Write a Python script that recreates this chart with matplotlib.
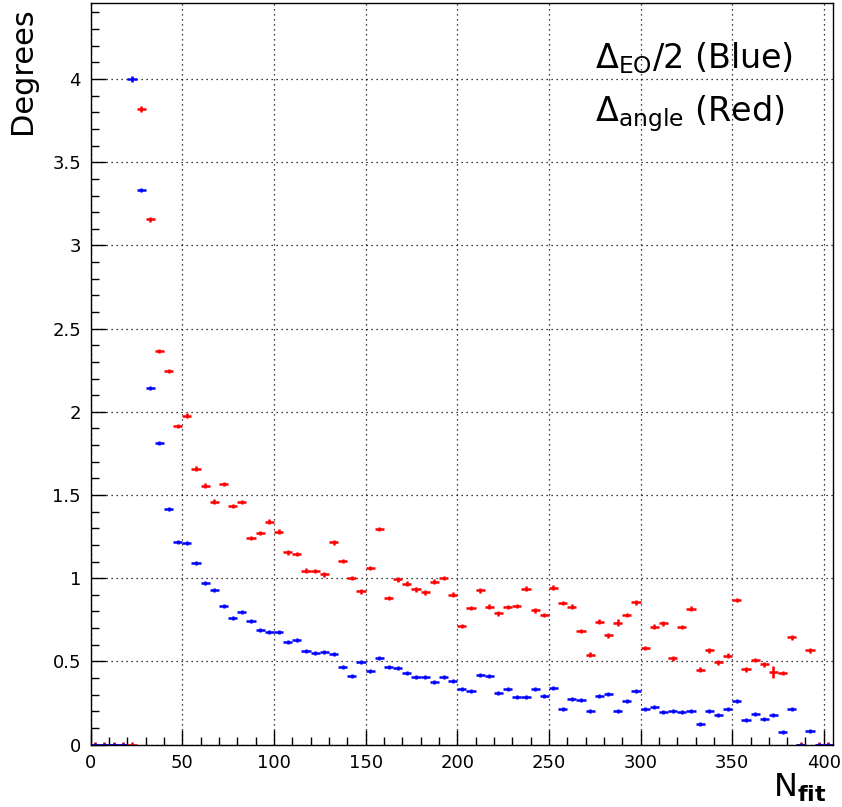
import numpy as np
import matplotlib
matplotlib.use("Agg")
import matplotlib.pyplot as plt
from matplotlib.ticker import MultipleLocator, FuncFormatter

plt.rcParams["mathtext.fontset"] = "dejavusans"

# bins of width 5 in N_fit, from 0 to 405
bin_width = 5.0
n_fit = np.arange(2.5, 405, bin_width)

# Delta_EO / 2 (blue)
delta_eo = [
    0, 0, 0, 0, 4.00, 3.335, 2.145, 1.814, 1.414, 1.22,
    1.212, 1.091, 0.973, 0.927, 0.835, 0.763, 0.797, 0.743, 0.689, 0.679,
    0.675, 0.615, 0.627, 0.563, 0.549, 0.557, 0.543, 0.465, 0.41, 0.495,
    0.442, 0.522, 0.465, 0.462, 0.432, 0.404, 0.404, 0.376, 0.406, 0.382,
    0.336, 0.322, 0.416, 0.41, 0.312, 0.332, 0.284, 0.284, 0.336, 0.292,
    0.342, 0.216, 0.276, 0.268, 0.202, 0.294, 0.305, 0.205, 0.262, 0.324,
    0.214, 0.224, 0.196, 0.204, 0.196, 0.202, 0.122, 0.204, 0.18, 0.214,
    0.262, 0.146, 0.186, 0.152, 0.176, 0.074, 0.216, 0, 0.084, 0,
    0,
]

# Delta_angle (red)
delta_angle = [
    0, 0, 0, 0, 0, 3.82, 3.157, 2.366, 2.245, 1.915,
    1.977, 1.658, 1.556, 1.46, 1.566, 1.434, 1.458, 1.242, 1.272, 1.34,
    1.28, 1.156, 1.145, 1.045, 1.043, 1.023, 1.216, 1.103, 1.001, 0.921,
    1.061, 1.296, 0.881, 0.993, 0.967, 0.933, 0.915, 0.979, 1.001, 0.901,
    0.713, 0.821, 0.927, 0.829, 0.789, 0.827, 0.833, 0.937, 0.807, 0.779,
    0.943, 0.851, 0.829, 0.683, 0.54, 0.739, 0.657, 0.733, 0.779, 0.855,
    0.58, 0.709, 0.729, 0.519, 0.707, 0.817, 0.45, 0.567, 0.495, 0.534,
    0.869, 0.453, 0.508, 0.483, 0.436, 0.43, 0.645, 0, 0.567, 0,
    0,
]

# errors: small everywhere except a few bins
err_eo = np.full(len(n_fit), 0.012)
err_eo[4] = 0.02
err_angle = np.full(len(n_fit), 0.014)
err_angle[5] = 0.02
err_angle[57] = 0.02
err_angle[74] = 0.035

fig = plt.figure(figsize=(8.42, 8.07), dpi=100)
ax = fig.add_axes([0.1077, 0.0773, 0.8816, 0.9186])

ax.errorbar(n_fit, delta_angle, xerr=bin_width / 2, yerr=err_angle,
            fmt="none", ecolor="#ff0000", elinewidth=1.8, capsize=0)
ax.errorbar(n_fit, delta_eo, xerr=bin_width / 2, yerr=err_eo,
            fmt="none", ecolor="#0000ff", elinewidth=1.8, capsize=0)

ax.set_xlim(0, 405)
ax.set_ylim(0, 4.455)

ax.xaxis.set_major_locator(MultipleLocator(50))
ax.xaxis.set_minor_locator(MultipleLocator(10))
ax.yaxis.set_major_locator(MultipleLocator(0.5))
ax.yaxis.set_minor_locator(MultipleLocator(0.1))
fmt = FuncFormatter(lambda v, p: "%g" % v)
ax.xaxis.set_major_formatter(fmt)
ax.yaxis.set_major_formatter(fmt)

ax.tick_params(which="both", direction="in", top=False, right=False,
               labelsize=13, width=1)
ax.tick_params(which="major", length=11, pad=7)
ax.tick_params(which="minor", length=5.5)

ax.grid(True, which="major", color="black", linestyle=(0, (1, 3)), linewidth=0.9)
ax.set_axisbelow(True)
for s in ax.spines.values():
    s.set_linewidth(1)

# axis titles
fig.text(22 / 842, 1 - 71 / 807, "Degrees", rotation=90, fontsize=22,
         ha="center", va="center")
ax.text(0.991, -0.037, r"N$_{\mathbf{fit}}$", transform=ax.transAxes,
        fontsize=23, ha="right", va="top")

# labels for the two series
ax.text(0.679, 0.9128, r"$\Delta_{\mathrm{EO}}$/2 (Blue)", transform=ax.transAxes,
        fontsize=24, ha="left", va="baseline")
ax.text(0.679, 0.841, r"$\Delta_{\mathrm{angle}}$ (Red)", transform=ax.transAxes,
        fontsize=24, ha="left", va="baseline")

fig.savefig("out.png", dpi=100)
